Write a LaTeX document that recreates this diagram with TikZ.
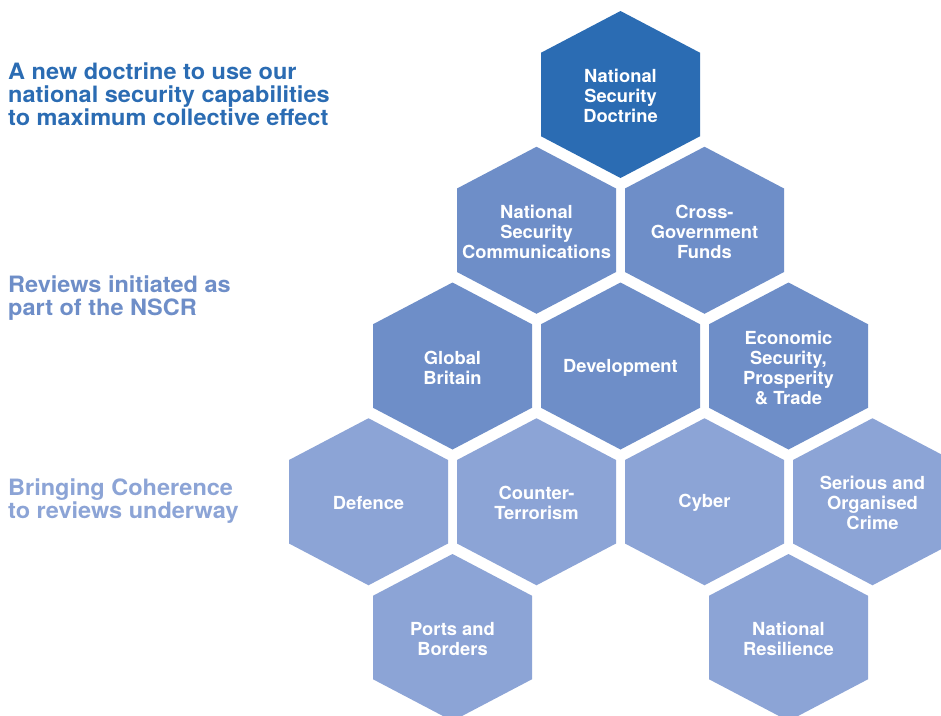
\documentclass[tikz,border=0pt]{standalone}
\usepackage{fontspec}
\setmainfont{TeX Gyre Heros}
\newfontfamily\sidefont[FakeStretch=1.045]{TeX Gyre Heros}
\newfontfamily\hexfont[FakeStretch=1.02]{TeX Gyre Heros}
\definecolor{hexdark}{HTML}{2B6CB3}
\definecolor{hexmid}{HTML}{6E8EC8}
\definecolor{hexlight}{HTML}{8CA4D6}
\newcommand\hexfill[2]{\fill[#2] (#1) +(0,-83.5) -- +(79.5,-41.75) -- +(79.5,41.75) -- +(0,83.5) -- +(-79.5,41.75) -- +(-79.5,-41.75) -- cycle;}
\tikzset{
  hexlabel/.style={text=white, align=center, inner sep=0pt, yshift=-1.5pt, font=\hexfont\fontsize{18}{20}\selectfont\bfseries},
  sidelabel/.style={anchor=north west, align=left, inner sep=0pt, font=\sidefont\fontsize{22.5}{23}\selectfont\bfseries}
}
\begin{document}
\begin{tikzpicture}[x=1pt,y=-1pt]
\useasboundingbox (0,0) rectangle (941,715);
\clip (0,0) rectangle (941,715);
\fill[white] (0,0) rectangle (941,715);
% centres
\coordinate (c1) at (620.5,94.5);
\coordinate (c2) at (536.5,230.25);
\coordinate (c3) at (704.5,230.25);
\coordinate (c4) at (452.5,366);
\coordinate (c5) at (620.5,366);
\coordinate (c6) at (788.5,366);
\coordinate (c7) at (368.5,501.75);
\coordinate (c8) at (536.5,501.75);
\coordinate (c9) at (704.5,501.75);
\coordinate (c10) at (872.5,501.75);
\coordinate (c11) at (452.5,637.5);
\coordinate (c12) at (788.5,637.5);
% hexagons
\hexfill{c1}{hexdark}
\hexfill{c2}{hexmid}
\hexfill{c3}{hexmid}
\hexfill{c4}{hexmid}
\hexfill{c5}{hexmid}
\hexfill{c6}{hexmid}
\hexfill{c7}{hexlight}
\hexfill{c8}{hexlight}
\hexfill{c9}{hexlight}
\hexfill{c10}{hexlight}
\hexfill{c11}{hexlight}
\hexfill{c12}{hexlight}
% labels
\node[hexlabel] (doctrine) at (c1) {National\\Security\\Doctrine};
\node[hexlabel] (comms) at (c2) {National\\Security\\Communications};
\node[hexlabel] (funds) at (c3) {Cross-\\Government\\Funds};
\node[hexlabel] (global) at (c4) {Global\\Britain};
\node[hexlabel] (dev) at (c5) {Development};
\node[hexlabel] (econ) at (c6) {Economic\\Security,\\Prosperity\\\& Trade};
\node[hexlabel] (defence) at (c7) {Defence};
\node[hexlabel] (ct) at (c8) {Counter-\\Terrorism};
\node[hexlabel] (cyber) at (c9) {Cyber};
\node[hexlabel] (soc) at (c10) {Serious and\\Organised\\Crime};
\node[hexlabel] (ports) at (c11) {Ports and\\Borders};
\node[hexlabel] (resil) at (c12) {National\\Resilience};
% side texts
\node[sidelabel, text=hexdark] (t1) at (8,63) {A new doctrine to use our\\national security capabilities\\to maximum collective effect};
\node[sidelabel, text=hexmid] (t2) at (8,275.5) {Reviews initiated as\\part of the NSCR};
\node[sidelabel, text=hexlight] (t3) at (8,478.5) {Bringing Coherence\\to reviews underway};
\end{tikzpicture}
\end{document}
